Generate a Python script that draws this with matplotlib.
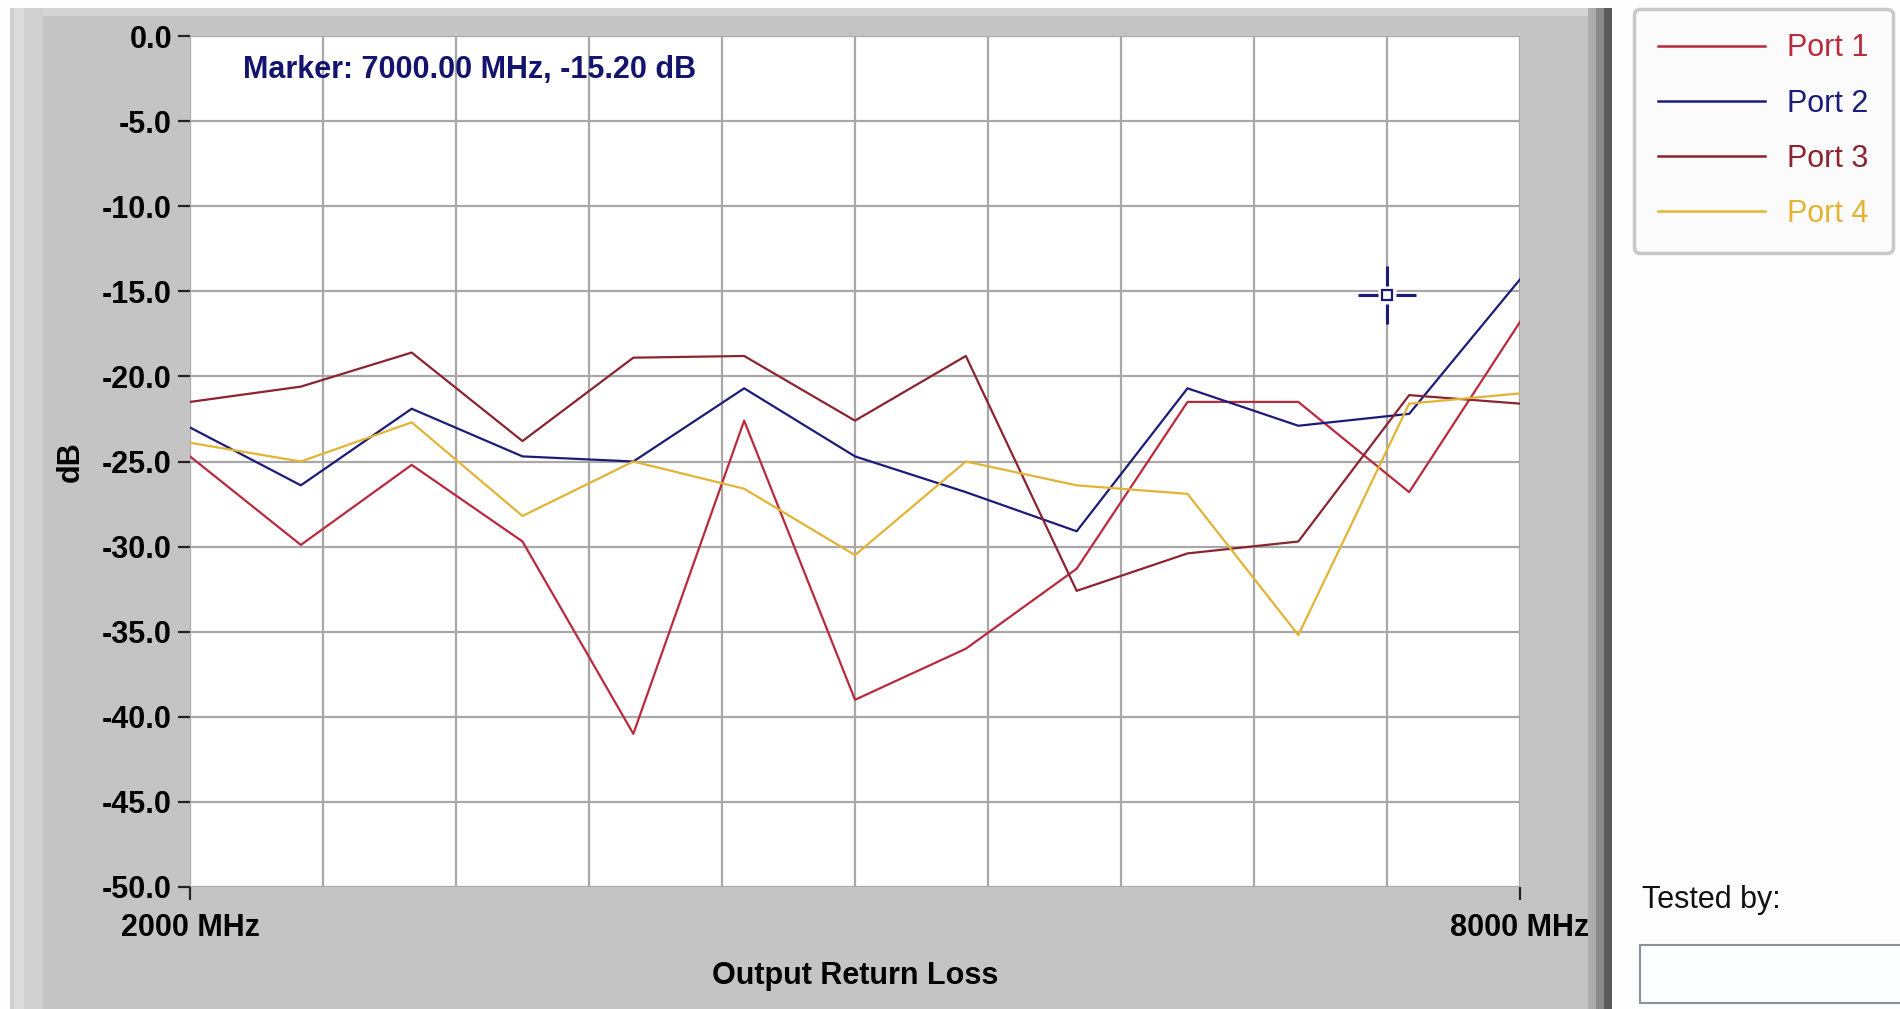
import matplotlib
matplotlib.use('Agg')
import matplotlib.pyplot as plt
from matplotlib.patches import Rectangle

plt.rcParams['font.family'] = ['Liberation Sans', 'DejaVu Sans']

# data (MHz / dB)
freq = [2000, 2500, 3000, 3500, 4000, 4500, 5000, 5500, 6000, 6500, 7000, 7500, 8000]
port1 = [-24.7, -29.9, -25.2, -29.7, -41.0, -22.6, -39.0, -36.0, -31.3, -21.5, -21.5, -26.8, -16.8]
port2 = [-23.0, -26.4, -21.9, -24.7, -25.0, -20.7, -24.7, -26.8, -29.1, -20.7, -22.9, -22.2, -14.3]
port3 = [-21.5, -20.6, -18.6, -23.8, -18.9, -18.8, -22.6, -18.8, -32.6, -30.4, -29.7, -21.1, -21.6]
port4 = [-23.9, -25.0, -22.7, -28.2, -25.0, -26.6, -30.5, -25.0, -26.4, -26.9, -35.2, -21.6, -21.0]
port_names = ['Port 1', 'Port 2', 'Port 3', 'Port 4']
port_colors = ['#b82a3c', '#1c1c78', '#8a2430', '#e2b436']

marker_freq = 7400
marker_db = -15.2
marker_label = 'Marker: 7000.00 MHz, -15.20 dB'

x_ticks = [2000, 8000]
x_tick_labels = ['2000 MHz', '8000 MHz']
x_grid = [2600, 3200, 3800, 4400, 5000, 5600, 6200, 6800, 7400]
y_ticks = [0, -5, -10, -15, -20, -25, -30, -35, -40, -45, -50]

W, H = 1900, 1009


def box(x0, y0, x1, y1):
    # pixel box (from top-left) -> figure fraction
    return (x0 / W, 1 - y1 / H), (x1 - x0) / W, (y1 - y0) / H


fig = plt.figure(figsize=(W / 100, H / 100), dpi=100)
fig.patch.set_facecolor('#fdfdfd')

# grey panel behind the graph, with bevels
for (x0, y0, x1, y1), c in [((10, 8, 1612, 1009), '#5a5a5a'),
                            ((10, 8, 1604, 1009), '#8a8a8a'),
                            ((10, 8, 1596, 1009), '#adadad'),
                            ((10, 8, 1588, 1009), '#c4c4c4'),
                            ((10, 8, 1588, 16), '#d4d4d4'),
                            ((10, 8, 43, 1009), '#d0d0d0'),
                            ((14, 8, 24, 1009), '#dcdcdc')]:
    xy, w, h = box(x0, y0, x1, y1)
    fig.add_artist(Rectangle(xy, w, h, transform=fig.transFigure, facecolor=c, edgecolor='none', zorder=0))

ax = fig.add_axes([190 / W, 1 - 887 / H, (1520 - 190) / W, (887 - 36) / H])
ax.set_facecolor('white')

series = [port1, port2, port3, port4]
for vals, name, col in zip(series, port_names, port_colors):
    ax.plot(freq, vals, color=col, lw=1.6, label=name, zorder=3)

# marker cursor
ax.plot([marker_freq], [marker_db], marker='+', markersize=42, markeredgewidth=2.2, color='#1c1c78', zorder=4)
ax.plot([marker_freq], [marker_db], marker='s', markersize=13, markerfacecolor='white', markeredgecolor='none', zorder=5)
ax.plot([marker_freq], [marker_db], marker='s', markersize=6.5, markerfacecolor='white',
        markeredgecolor='#1c1c78', markeredgewidth=1.6, zorder=6)

ax.text(0.04, 0.978, marker_label, transform=ax.transAxes, ha='left', va='top',
        fontsize=22, fontweight='bold', color='#14146e')

ax.set_xlim(2000, 8000)
ax.set_ylim(-50, 0)
ax.set_xticks(x_ticks)
ax.set_xticklabels(x_tick_labels)
ax.set_xticks(x_grid, minor=True)
ax.set_yticks(y_ticks)
ax.set_yticklabels(['%.1f' % v for v in y_ticks])
ax.grid(True, which='both', color='#a8a8a8', lw=1.6)
ax.set_axisbelow(True)
ax.tick_params(axis='both', which='major', direction='out', length=9, width=1.6, color='#222222',
               labelsize=22, pad=4)
ax.tick_params(axis='x', which='major', pad=10)
ax.tick_params(axis='x', which='minor', length=0)
for lab in ax.get_xticklabels() + ax.get_yticklabels():
    lab.set_fontweight('bold')
for s in ax.spines.values():
    s.set_visible(False)

ax.set_xlabel('Output Return Loss', fontsize=22, fontweight='bold', labelpad=13)
ax.set_ylabel('dB', fontsize=22, fontweight='bold', labelpad=12)

leg = ax.legend(loc='upper left', bbox_to_anchor=(1634 / W, 1 - 9 / H), bbox_transform=fig.transFigure,
                borderaxespad=0, fontsize=22, labelcolor='linecolor', handlelength=3.5, handletextpad=0.7,
                labelspacing=0.82, borderpad=0.8, fancybox=True, shadow=False,
                frameon=True, edgecolor='#c8c8c8', facecolor='#fbfbfb', framealpha=1)
leg.get_frame().set_linewidth(2.5)
for ln in leg.get_lines():
    ln.set_linewidth(1.8)

fig.text(1642 / W, 1 - 900 / H, 'Tested by:', fontsize=22, color='#111111', ha='left', va='center')
xy, w, h = box(1640, 945, 1905, 1003)
fig.add_artist(Rectangle(xy, w, h, transform=fig.transFigure, facecolor='#fcfdff',
                         edgecolor='#8c9098', lw=1.5, zorder=1))

fig.savefig('out.png', dpi=100, facecolor=fig.get_facecolor())
